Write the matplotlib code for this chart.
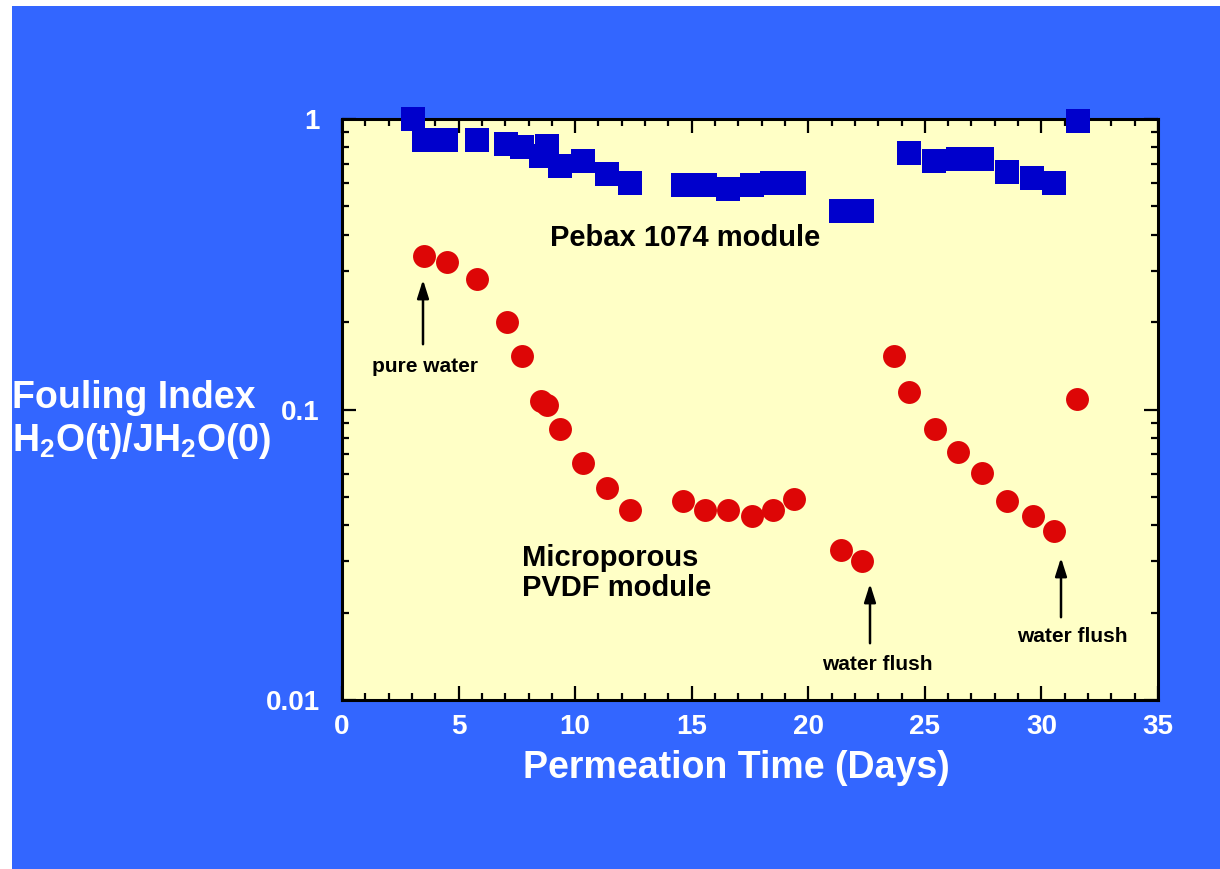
import matplotlib
matplotlib.use("Agg")
import matplotlib.pyplot as plt
from matplotlib.patches import Rectangle
from matplotlib.ticker import FixedLocator, LogLocator, NullFormatter

plt.rcParams['font.family'] = ['Liberation Sans', 'DejaVu Sans']
plt.rcParams['mathtext.fontset'] = 'custom'
plt.rcParams['mathtext.rm'] = 'Liberation Sans:bold'
plt.rcParams['mathtext.bf'] = 'Liberation Sans:bold'

# Pebax 1074 module
pebax_days = [3.03, 3.5, 4.48, 5.78, 7.05, 7.71, 8.52, 8.81, 9.35, 10.35, 11.35, 12.37,
              14.64, 15.57, 16.57, 17.58, 18.46, 19.39, 21.39, 22.32,
              24.31, 25.41, 26.43, 27.44, 28.53, 29.6, 30.53, 31.55]
pebax_index = [1.0, 0.845, 0.845, 0.845, 0.818, 0.80, 0.745, 0.807, 0.689, 0.716, 0.645, 0.603,
               0.594, 0.594, 0.572, 0.594, 0.603, 0.603, 0.484, 0.484,
               0.763, 0.716, 0.726, 0.726, 0.655, 0.624, 0.603, 0.984]

# Microporous PVDF module
pvdf_days = [3.5, 4.5, 5.79, 7.08, 7.71, 8.52, 8.81, 9.35, 10.35, 11.35, 12.37,
             14.64, 15.57, 16.57, 17.58, 18.5, 19.39, 21.39, 22.32,
             23.69, 24.34, 25.44, 26.43, 27.44, 28.53, 29.63, 30.55, 31.54]
pvdf_index = [0.338, 0.321, 0.281, 0.200, 0.153, 0.107, 0.1035, 0.0859, 0.0656, 0.0535, 0.0452,
              0.0483, 0.0452, 0.0452, 0.0431, 0.0452, 0.049, 0.0328, 0.0301,
              0.153, 0.1147, 0.086, 0.0713, 0.0603, 0.0484, 0.0431, 0.0382, 0.109]

x_ticks = [0, 5, 10, 15, 20, 25, 30, 35]
y_ticks = [0.01, 0.1, 1]
y_tick_labels = ['0.01', '0.1', '1']

W, H = 1220, 869
fig = plt.figure(figsize=(W / 100, H / 100), dpi=100, facecolor='white')
fig.patches.append(Rectangle((12 / W, 0), 1 - 12 / W, 1 - 6 / H, transform=fig.transFigure,
                             facecolor='#3366FF', edgecolor='none', zorder=-10))

ax = fig.add_axes([342 / W, 1 - 700 / H, 816 / W, 581 / H])
ax.set_zorder(5)
ax.set_facecolor('#FFFFC6')
ax.set_yscale('log')
ax.set_xlim(0, 35)
ax.set_ylim(0.01, 1)

ax.plot(pebax_days, pebax_index, 's', color='#0000CC', markersize=17.5, markeredgewidth=0,
        clip_on=False, zorder=3)
ax.plot(pvdf_days, pvdf_index, 'o', color='#DD0606', markersize=16.5, markeredgewidth=0,
        clip_on=False, zorder=3)

ax.xaxis.set_major_locator(FixedLocator(x_ticks))
ax.xaxis.set_minor_locator(FixedLocator(range(0, 36)))
ax.yaxis.set_major_locator(FixedLocator(y_ticks))
ax.yaxis.set_minor_locator(LogLocator(base=10, subs=range(2, 10)))
ax.yaxis.set_minor_formatter(NullFormatter())
ax.set_yticklabels(y_tick_labels)
ax.tick_params(which='both', direction='in', top=True, right=True, color='black', width=1.6)
ax.tick_params(which='major', length=10)
ax.tick_params(which='minor', length=5)
ax.tick_params(axis='x', which='major', pad=10, labelsize=20, labelcolor='white')
ax.tick_params(axis='y', which='major', pad=16, labelsize=20, labelcolor='white')
for lab in ax.get_xticklabels() + ax.get_yticklabels():
    lab.set_fontweight('bold')
for sp in ax.spines.values():
    sp.set_linewidth(2.2)

xl = ax.set_xlabel('Permeation Time (Days)', fontsize=27, fontweight='bold', color='white')
xl.set_verticalalignment('center')
ax.xaxis.set_label_coords((736 - 342) / 816, (700 - 768) / 581)

fig.text(12 / W, 1 - 398 / H, 'Fouling Index', fontsize=27, fontweight='bold', color='white',
         ha='left', va='center')
fig.text(12 / W, 1 - 441 / H, r'H$_2$O(t)/JH$_2$O(0)', fontsize=27, fontweight='bold',
         color='white', ha='left', va='center')


def px(x, y):
    # pixel position in the reference -> data coordinates
    return ax.transData.inverted().transform(ax.transAxes.transform(
        ((x - 342) / 816, (700 - y) / 581)))


ax.text(*px(685, 238), 'Pebax 1074 module', fontsize=21, fontweight='bold', ha='center', va='center')
ax.text(*px(522, 573), 'Microporous\nPVDF module', fontsize=21, fontweight='bold', ha='left',
        va='center', linespacing=1.08)
ax.text(*px(425, 366), 'pure water', fontsize=15, fontweight='bold', ha='center', va='center')
ax.text(*px(877, 664), 'water flush', fontsize=15, fontweight='bold', ha='center', va='center')
ax.text(*px(1072, 637), 'water flush', fontsize=15, fontweight='bold', ha='center', va='center')

arrow = dict(arrowstyle='-|>,head_length=1.1,head_width=0.35', color='black', lw=1.8)
ax.annotate('', xy=px(423, 277), xytext=px(423, 347), arrowprops=arrow)
ax.annotate('', xy=px(870, 581), xytext=px(870, 646), arrowprops=arrow)
ax.annotate('', xy=px(1061, 555), xytext=px(1061, 620), arrowprops=arrow)

fig.savefig('out.png', dpi=100, facecolor=fig.get_facecolor())
